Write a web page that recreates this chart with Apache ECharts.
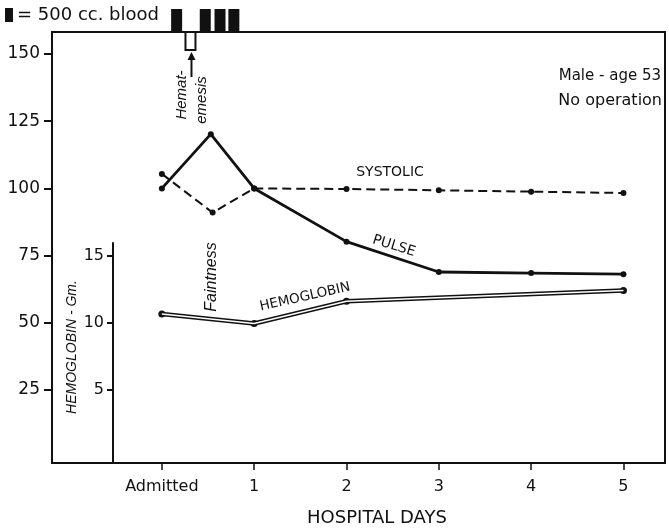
<!DOCTYPE html>
<html lang="en">
<head>
    <meta charset="utf-8">
    <script src="https://cdn.jsdelivr.net/npm/echarts@6.0.0/dist/echarts.min.js"></script>
    <style>
        html, body { margin: 0; padding: 0; background: #fff; }
        #chart { width: 669px; height: 529px; }
    </style>
</head>
<body>
<div id="chart"></div>
<script type="text/javascript">

// hospital days (0 = admitted)
var dayTicks = [0, 1, 2, 3, 4, 5];
var dayLabels = ['Admitted', '1', '2', '3', '4', '5'];

var pulseDays = [0, 0.53, 1, 2, 3, 4, 5];
var pulseVals = [100, 120.2, 100, 80.2, 68.9, 68.5, 68.1];

var systolicDays = [0, 0.55, 1, 2, 3, 4, 5];
var systolicVals = [105.4, 91, 100, 99.8, 99.3, 98.8, 98.3];

var hgbDays = [0, 1, 2, 5];
var hgbVals = [10.65, 9.95, 11.6, 12.4];

// each filled block = 500 cc. blood
var transfusionDays = [0.16, 0.47, 0.63, 0.78];
var hematemesisDays = [0.31];

var mainTicks = [25, 50, 75, 100, 125, 150];
var hgbTicks = [5, 10, 15];

function pairs(xs, ys) {
    return xs.map(function (x, i) { return [x, ys[i]]; });
}

var font = 'DejaVu Sans';
var font2 = 'Liberation Sans';
var chart = echarts.init(document.getElementById('chart'));

// main scale: 25 units = 5 Gm. hemoglobin
var mainMin = -2.16, mainMax = 158.2;

var option = {
    animation: false,
    backgroundColor: '#fff',
    textStyle: { fontFamily: font, color: '#111' },
    grid: [
        { left: 52, right: 4, top: 32, bottom: 66, show: true, borderColor: '#111', borderWidth: 2 },
        { left: 113, right: 4, top: 243, bottom: 66 }
    ],
    xAxis: [{
        type: 'value', gridIndex: 0, min: -1.19, max: 5.45,
        axisLine: { show: true, onZero: false, lineStyle: { color: '#111', width: 2 } },
        axisTick: { show: true, customValues: dayTicks, length: 7, inside: false, lineStyle: { color: '#111', width: 1.5 } },
        axisLabel: {
            customValues: dayTicks, margin: 16, fontSize: 16, color: '#111', fontFamily: font,
            formatter: function (v) { return dayLabels[dayTicks.indexOf(v)]; }
        },
        splitLine: { show: false }
    }, {
        type: 'value', gridIndex: 1, min: 0, max: 1, show: false
    }],
    yAxis: [{
        type: 'value', gridIndex: 0, min: mainMin, max: mainMax,
        axisLine: { show: true, onZero: false, lineStyle: { color: '#111', width: 2 } },
        axisTick: { show: true, customValues: mainTicks, length: 8, lineStyle: { color: '#111', width: 2 } },
        axisLabel: { customValues: mainTicks, margin: 12, fontSize: 17, color: '#111', fontFamily: font },
        splitLine: { show: false }
    }, {
        type: 'value', gridIndex: 0, min: mainMin / 5, max: mainMax / 5, show: false
    }, {
        type: 'value', gridIndex: 1, min: mainMin / 5, max: 15.94,
        axisLine: { show: true, onZero: false, lineStyle: { color: '#111', width: 2 } },
        axisTick: { show: true, customValues: hgbTicks, length: 6, lineStyle: { color: '#111', width: 2 } },
        axisLabel: { customValues: hgbTicks, margin: 9, fontSize: 16, color: '#111', fontFamily: font },
        splitLine: { show: false }
    }],
    series: [{
        name: 'Hemoglobin outer', type: 'line', xAxisIndex: 0, yAxisIndex: 1,
        data: pairs(hgbDays, hgbVals),
        symbol: 'circle', symbolSize: 7, itemStyle: { color: '#111' },
        lineStyle: { color: '#111', width: 4.6 }, z: 2
    }, {
        name: 'Hemoglobin inner', type: 'line', xAxisIndex: 0, yAxisIndex: 1,
        data: pairs(hgbDays, hgbVals),
        symbol: 'none',
        lineStyle: { color: '#fff', width: 1.5 }, z: 3
    }, {
        name: 'Systolic', type: 'line', xAxisIndex: 0, yAxisIndex: 0,
        data: pairs(systolicDays, systolicVals),
        symbol: 'circle', symbolSize: 6, itemStyle: { color: '#111' },
        lineStyle: { color: '#111', width: 2, type: [9, 5] }, z: 4
    }, {
        name: 'Pulse', type: 'line', xAxisIndex: 0, yAxisIndex: 0,
        data: pairs(pulseDays, pulseVals),
        symbol: 'circle', symbolSize: 6, itemStyle: { color: '#111' },
        lineStyle: { color: '#111', width: 2.8 }, z: 5
    }, {
        name: 'Transfusion', type: 'custom', xAxisIndex: 0, yAxisIndex: 0,
        data: transfusionDays.map(function (d) { return [d]; }),
        renderItem: function (params, api) {
            var x = api.coord([api.value(0), 0])[0];
            return { type: 'rect', shape: { x: x - 5.5, y: 9, width: 11, height: 22 }, style: { fill: '#111' } };
        }
    }, {
        name: 'Hematemesis', type: 'custom', xAxisIndex: 0, yAxisIndex: 0,
        data: hematemesisDays.map(function (d) { return [d]; }),
        renderItem: function (params, api) {
            var x = api.coord([api.value(0), 0])[0];
            return {
                type: 'group',
                children: [
                    { type: 'rect', shape: { x: x - 5, y: 32, width: 10, height: 18 }, style: { fill: '#fff', stroke: '#111', lineWidth: 2 } },
                    { type: 'line', shape: { x1: x + 1, y1: 56, x2: x + 1, y2: 77 }, style: { stroke: '#111', lineWidth: 2 } },
                    { type: 'polygon', shape: { points: [[x + 1, 52], [x - 3, 60], [x + 5, 60]] }, style: { fill: '#111' } }
                ]
            };
        }
    }],
    graphic: [
        { type: 'rect', shape: { x: 5, y: 8, width: 8, height: 14 }, style: { fill: '#111' } },
        { type: 'text', x: 17, y: 15, style: { text: '= 500 cc. blood', font: '18px ' + font, fill: '#111', verticalAlign: 'middle' } },
        { type: 'text', x: 661, y: 76, style: { text: 'Male - age 53', font: '15px ' + font, fill: '#111', align: 'right', verticalAlign: 'middle' } },
        { type: 'text', x: 662, y: 101, style: { text: 'No operation', font: '16px ' + font, fill: '#111', align: 'right', verticalAlign: 'middle' } },
        { type: 'text', x: 72, y: 347, rotation: Math.PI / 2, style: { text: 'HEMOGLOBIN - Gm.', font: 'italic 14px ' + font2, fill: '#111', align: 'center', verticalAlign: 'middle' } },
        { type: 'text', x: 182, y: 95, rotation: Math.PI / 2, style: { text: 'Hemat-', font: 'italic 15px ' + font2, fill: '#111', align: 'center', verticalAlign: 'middle' } },
        { type: 'text', x: 202, y: 100, rotation: Math.PI / 2, style: { text: 'emesis', font: 'italic 15px ' + font2, fill: '#111', align: 'center', verticalAlign: 'middle' } },
        { type: 'text', x: 212, y: 277, rotation: Math.PI / 2, style: { text: 'Faintness', font: 'italic 16px ' + font2, fill: '#111', align: 'center', verticalAlign: 'middle' } },
        { type: 'text', x: 390, y: 172, style: { text: 'SYSTOLIC', font: '14px ' + font, fill: '#111', align: 'center', verticalAlign: 'middle' } },
        { type: 'text', x: 394, y: 246, rotation: -0.3, style: { text: 'PULSE', font: '14px ' + font, fill: '#111', align: 'center', verticalAlign: 'middle' } },
        { type: 'text', x: 305, y: 297, rotation: 0.22, style: { text: 'HEMOGLOBIN', font: '13.5px ' + font, fill: '#111', align: 'center', verticalAlign: 'middle' } },
        { type: 'text', x: 377, y: 518, style: { text: 'HOSPITAL DAYS', font: '18px ' + font, fill: '#111', align: 'center', verticalAlign: 'middle' } }
    ]
};
chart.setOption(option);

</script>
</body>
</html>
